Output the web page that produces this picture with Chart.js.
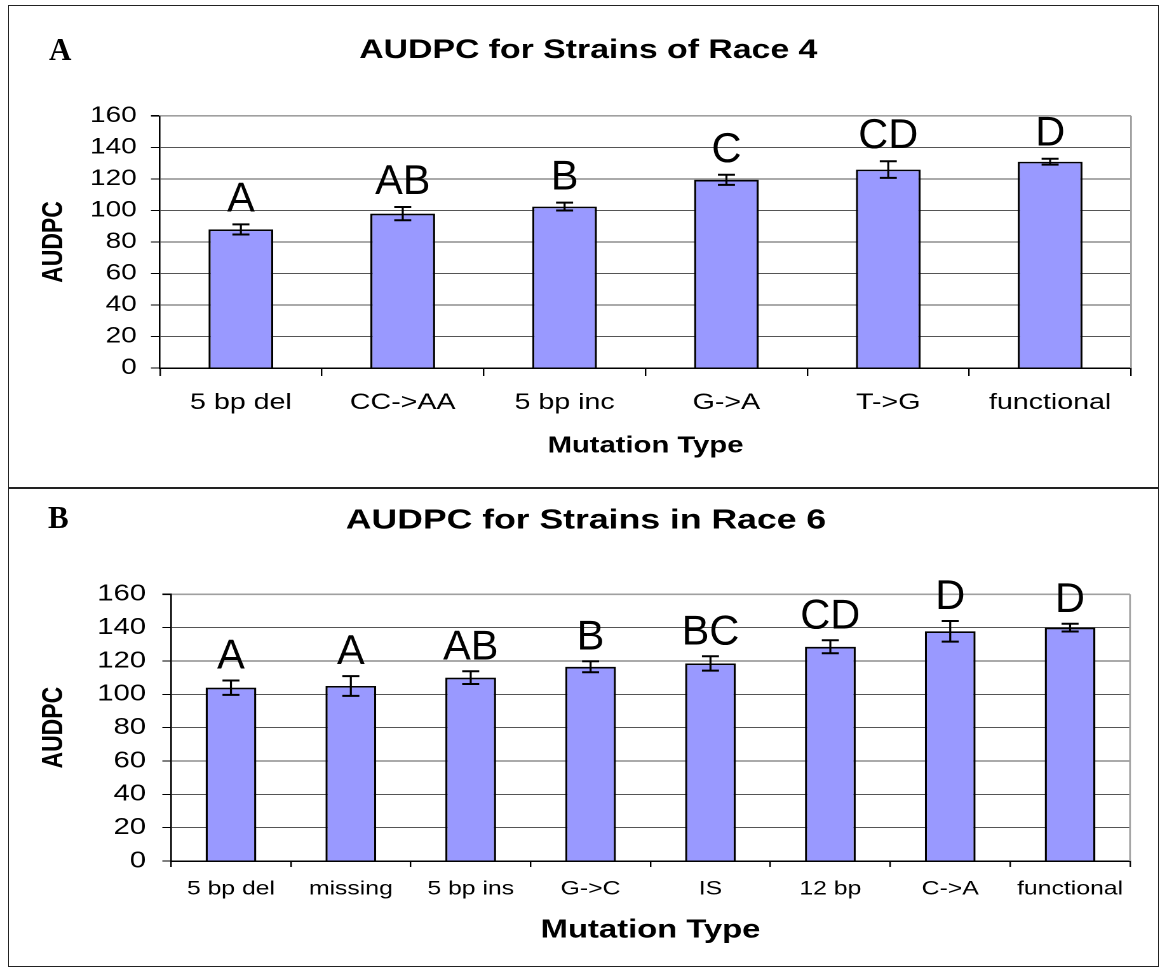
<!DOCTYPE html>
<html>
<head>
<meta charset="utf-8">
<script src="https://cdn.jsdelivr.net/npm/chart.js@4/dist/chart.umd.min.js"></script>
<style>
  html, body { margin: 0; padding: 0; background: #fff; }
  #page { position: relative; width: 1160px; height: 968px; overflow: hidden; background: #fff; }
  canvas { position: absolute; left: 0; }
  #chartA { top: 0; }
  #chartB { top: 488px; }
  .frame { position: absolute; border: 1.5px solid #222; pointer-events: none; }
  .rule { position: absolute; background: #222; pointer-events: none; }
  .panel-letter { position: absolute; font-family: "Liberation Serif", "Times New Roman", serif;
                  font-weight: bold; font-size: 31px; line-height: 31px; color: #000; }
</style>
</head>
<body>
<div id="page">
  <canvas id="chartA" width="913" height="488" style="width:1160px;height:488px;"></canvas>
  <canvas id="chartB" width="913" height="480" style="width:1160px;height:480px;"></canvas>
  <div class="frame" style="left:8px; top:5px; width:1149px; height:960px;"></div>
  <div class="rule" style="left:8px; top:487px; width:1151px; height:1.5px;"></div>
  <div class="panel-letter" style="left:49px; top:34px;">A</div>
  <div class="panel-letter" style="left:48px; top:502px;">B</div>
</div>
<script>
// Race 4 strains
const raceFourTypes  = ['5 bp del', 'CC->AA', '5 bp inc', 'G->A', 'T->G', 'functional'];
const raceFourAudpc  = [88, 98, 102.5, 119.5, 126, 131];
const raceFourSe     = [3.2, 4.2, 2.5, 3.2, 5.3, 1.9];
const raceFourGroups = ['A', 'AB', 'B', 'C', 'CD', 'D'];

// Race 6 strains
const raceSixTypes  = ['5 bp del', 'missing', '5 bp ins', 'G->C', 'IS', '12 bp', 'C->A', 'functional'];
const raceSixAudpc  = [104, 105, 110, 116.5, 118.5, 128.5, 137.8, 140];
const raceSixSe     = [4.3, 5.9, 3.8, 3.3, 4.3, 3.9, 6.2, 2.3];
const raceSixGroups = ['A', 'A', 'AB', 'B', 'BC', 'CD', 'D', 'D'];

const yTicks = { min: 0, max: 160, step: 20 };

// The charts are laid out on a narrower canvas and widened to the page by CSS.
const STRETCH = 1160 / 913;
const SANS = '"Liberation Sans", Arial, Helvetica, sans-serif';

// Standard-error whiskers with caps, one per bar
const errorBarPlugin = {
  id: 'errorBars',
  afterDatasetsDraw(chart, args, opts) {
    const meta = chart.getDatasetMeta(0);
    const yScale = chart.scales.y;
    const values = chart.data.datasets[0].data;
    const ctx = chart.ctx;
    const half = opts.capWidth / 2;
    ctx.save();
    ctx.strokeStyle = '#000';
    meta.data.forEach((bar, i) => {
      const v = values[i], e = opts.errors[i];
      const yTop = yScale.getPixelForValue(v + e);
      const yBot = yScale.getPixelForValue(v - e);
      ctx.lineWidth = opts.stemWidth;
      ctx.beginPath();
      ctx.moveTo(bar.x, yTop);
      ctx.lineTo(bar.x, yBot);
      ctx.stroke();
      ctx.lineWidth = opts.capThickness;
      ctx.beginPath();
      ctx.moveTo(bar.x - half, yTop); ctx.lineTo(bar.x + half, yTop);
      ctx.moveTo(bar.x - half, yBot); ctx.lineTo(bar.x + half, yBot);
      ctx.stroke();
    });
    ctx.restore();
  }
};

// Significance-group letters above each whisker (drawn unwidened)
const groupLetterPlugin = {
  id: 'groupLetters',
  afterDatasetsDraw(chart, args, opts) {
    const meta = chart.getDatasetMeta(0);
    const yScale = chart.scales.y;
    const values = chart.data.datasets[0].data;
    const ctx = chart.ctx;
    meta.data.forEach((bar, i) => {
      const y = yScale.getPixelForValue(values[i] + opts.errors[i]) - opts.gap;
      ctx.save();
      ctx.translate(bar.x, y);
      ctx.scale(1 / STRETCH, 1);
      ctx.font = `${opts.size}px ${SANS}`;
      ctx.fillStyle = '#000';
      ctx.textAlign = 'center';
      ctx.textBaseline = 'alphabetic';
      ctx.fillText(opts.letters[i], 0, 0);
      ctx.restore();
    });
  }
};

// Light grey right edge of the plot area
const plotEdgePlugin = {
  id: 'plotEdge',
  beforeDatasetsDraw(chart) {
    const { ctx, chartArea } = chart;
    ctx.save();
    ctx.strokeStyle = '#a0a0a0';
    ctx.lineWidth = 1.4;
    ctx.beginPath();
    ctx.moveTo(chartArea.right, chartArea.top);
    ctx.lineTo(chartArea.right, chartArea.bottom);
    ctx.stroke();
    ctx.restore();
  }
};

function buildChart(canvasId, cfg) {
  return new Chart(document.getElementById(canvasId), {
    type: 'bar',
    data: {
      labels: cfg.labels,
      datasets: [{
        data: cfg.values,
        backgroundColor: '#9999FF',
        borderColor: '#000',
        borderWidth: 1.7,
        categoryPercentage: 1,
        barPercentage: cfg.barPct
      }]
    },
    options: {
      responsive: false,
      animation: false,
      devicePixelRatio: 2,
      layout: { padding: { left: cfg.padLeft, right: cfg.padRight, top: 0, bottom: 0 } },
      plugins: {
        legend: { display: false },
        tooltip: { enabled: false },
        title: {
          display: true,
          text: cfg.title,
          color: '#000',
          font: { family: SANS, size: cfg.titleSize, weight: 'bold' },
          padding: { top: cfg.titlePadTop, bottom: cfg.titlePadBottom }
        },
        errorBars: { errors: cfg.errors, capWidth: 13.4, stemWidth: 1.6, capThickness: 2 },
        groupLetters: { errors: cfg.errors, letters: cfg.letters, gap: cfg.letterGap, size: 41.5 }
      },
      scales: {
        x: {
          grid: { offset: true, drawOnChartArea: false, tickLength: cfg.xTickLen, tickColor: '#000', lineWidth: 1.2 },
          border: { color: '#000', width: 1.5 },
          ticks: {
            color: '#000', autoSkip: false, maxRotation: 0, minRotation: 0,
            padding: cfg.xTickPad, font: { family: SANS, size: cfg.xTickSize }
          },
          title: {
            display: true, text: 'Mutation Type', color: '#000',
            font: { family: SANS, size: cfg.xTitleSize, weight: 'bold' },
            padding: { top: 0, bottom: cfg.xTitlePad }
          },
          afterFit(scale) { scale.height = cfg.xHeight; }
        },
        y: {
          min: yTicks.min,
          max: yTicks.max,
          grid: {
            color: (c) => (c.tick && c.tick.value === yTicks.max ? '#a0a0a0' : '#555'),
            lineWidth: (c) => (c.tick && c.tick.value === yTicks.max ? 1.6 : 1),
            tickLength: cfg.yTickLen, tickColor: '#000'
          },
          border: { color: '#000', width: 1.3 },
          ticks: {
            stepSize: yTicks.step, color: '#000',
            padding: cfg.yTickPad, font: { family: SANS, size: cfg.yTickSize }
          },
          title: {
            display: true, text: 'AUDPC', color: '#000',
            font: { family: SANS, size: 23, weight: 'bold' },
            padding: { top: cfg.yTitlePad, bottom: 0 }
          },
          afterFit(scale) { scale.width = cfg.yWidth; }
        }
      }
    },
    plugins: [plotEdgePlugin, errorBarPlugin, groupLetterPlugin]
  });
}

buildChart('chartA', {
  labels: raceFourTypes, values: raceFourAudpc, errors: raceFourSe, letters: raceFourGroups,
  title: 'AUDPC for Strains of Race 4', titleSize: 26.6, titlePadTop: 34.7, titlePadBottom: 49.4,
  barPct: 0.40, letterGap: 13,
  padLeft: 35.8, padRight: 22.8, yWidth: 90.1, yTitlePad: -7.1,
  yTickLen: 7.1, yTickPad: 11.2, yTickSize: 22,
  xHeight: 120, xTickLen: 8, xTickPad: 13.3, xTickSize: 22.5, xTitleSize: 23, xTitlePad: 28.2
});

buildChart('chartB', {
  labels: raceSixTypes, values: raceSixAudpc, errors: raceSixSe, letters: raceSixGroups,
  title: 'AUDPC for Strains in Race 6', titleSize: 28, titlePadTop: 15.9, titlePadBottom: 56.8,
  barPct: 0.423, letterGap: 12,
  padLeft: 33.0, padRight: 23.6, yWidth: 101.6, yTitlePad: -4.3,
  yTickLen: 6.85, yTickPad: 12.85, yTickSize: 23,
  xHeight: 107, xTickLen: 6, xTickPad: 10.2, xTickSize: 19.5, xTitleSize: 25.8, xTitlePad: 22.1
});
</script>
</body>
</html>
